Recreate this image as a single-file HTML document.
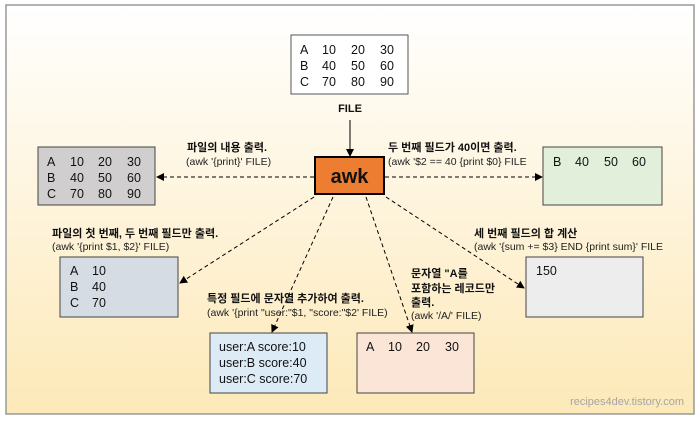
<!DOCTYPE html>
<html><head><meta charset="utf-8"><style>
html,body{margin:0;padding:0;background:#fff;}
svg{display:block;font-family:"Liberation Sans","Noto Sans CJK KR",sans-serif;}
.t{font-size:12.5px;fill:#111;}
.s{font-size:10.5px;fill:#222;}
.b{font-size:11px;font-weight:bold;fill:#111;}
</style></head><body>
<svg width="700" height="424" viewBox="0 0 700 424" xmlns="http://www.w3.org/2000/svg">
<defs>
<linearGradient id="g" x1="0" y1="0" x2="0" y2="1">
<stop offset="0" stop-color="#ffffff"/><stop offset="1" stop-color="#fde9b8"/>
</linearGradient>
<marker id="a" markerWidth="8" markerHeight="8" refX="7" refY="4" orient="auto" markerUnits="userSpaceOnUse">
<path d="M0,0 L8,4 L0,8 z" fill="#000"/></marker>
</defs>
<rect x="6" y="5" width="688" height="409" fill="url(#g)" stroke="#999" stroke-width="1.5"/>
<!-- FILE box -->
<rect x="291" y="35" width="117" height="59" fill="#fff" stroke="#555"/>
<text class="t" x="300" y="54">A</text><text class="t" x="322" y="54">10</text><text class="t" x="351" y="54">20</text><text class="t" x="380" y="54">30</text>
<text class="t" x="300" y="70">B</text><text class="t" x="322" y="70">40</text><text class="t" x="351" y="70">50</text><text class="t" x="380" y="70">60</text>
<text class="t" x="300" y="86">C</text><text class="t" x="322" y="86">70</text><text class="t" x="351" y="86">80</text><text class="t" x="380" y="86">90</text>
<text class="b" x="350" y="112" text-anchor="middle">FILE</text>
<line x1="350" y1="120" x2="350" y2="156" stroke="#000" marker-end="url(#a)"/>
<!-- awk -->
<rect x="315" y="157" width="69" height="37" fill="#ed7d31" stroke="#000" stroke-width="2"/>
<text x="349.5" y="183" text-anchor="middle" style="font-size:20px;font-weight:bold;fill:#111">awk</text>
<!-- connectors -->
<g stroke="#000" stroke-dasharray="4,3" fill="none">
<line x1="314" y1="177" x2="157" y2="177" marker-end="url(#a)"/>
<line x1="385" y1="177" x2="542" y2="177" marker-end="url(#a)"/>
<line x1="314" y1="197" x2="180" y2="283" marker-end="url(#a)"/>
<line x1="333" y1="197" x2="272" y2="332" marker-end="url(#a)"/>
<line x1="366" y1="197" x2="412" y2="332" marker-end="url(#a)"/>
<line x1="386" y1="197" x2="524" y2="288" marker-end="url(#a)"/>
</g>
<!-- left gray -->
<rect x="38" y="147" width="117" height="58" fill="#d0cece" stroke="#444"/>
<text class="t" x="47" y="166">A</text><text class="t" x="70" y="166">10</text><text class="t" x="98" y="166">20</text><text class="t" x="127" y="166">30</text>
<text class="t" x="47" y="182">B</text><text class="t" x="70" y="182">40</text><text class="t" x="98" y="182">50</text><text class="t" x="127" y="182">60</text>
<text class="t" x="47" y="198">C</text><text class="t" x="70" y="198">70</text><text class="t" x="98" y="198">80</text><text class="t" x="127" y="198">90</text>
<text class="b" x="187" y="151">파일의 내용 출력.</text>
<text class="s" x="186" y="165">(awk '{print}' FILE)</text>
<!-- right green -->
<rect x="543" y="147" width="119" height="58" fill="#e2efda" stroke="#444"/>
<text class="t" x="553" y="166">B</text><text class="t" x="575" y="166">40</text><text class="t" x="604" y="166">50</text><text class="t" x="632" y="166">60</text>
<text class="b" x="388" y="151">두 번째 필드가 40이면 출력.</text>
<text class="s" x="388" y="165">(awk '$2 == 40 {print $0} FILE</text>
<!-- bottom-left -->
<rect x="60" y="257" width="118" height="60" fill="#d6dce4" stroke="#444"/>
<text class="t" x="70" y="275">A</text><text class="t" x="92" y="275">10</text>
<text class="t" x="70" y="291">B</text><text class="t" x="92" y="291">40</text>
<text class="t" x="70" y="307">C</text><text class="t" x="92" y="307">70</text>
<text class="b" x="52" y="237">파일의 첫 번째, 두 번째 필드만 출력.</text>
<text class="s" x="52" y="250">(awk '{print $1, $2}' FILE)</text>
<!-- blue -->
<rect x="210" y="333" width="117" height="60" fill="#ddebf7" stroke="#444"/>
<text class="t" x="219" y="351">user:A score:10</text>
<text class="t" x="219" y="367">user:B score:40</text>
<text class="t" x="219" y="383">user:C score:70</text>
<text class="b" x="207" y="302">특정 필드에 문자열 추가하여 출력.</text>
<text class="s" x="207" y="316">(awk '{print "user:"$1, "score:"$2' FILE)</text>
<!-- peach -->
<rect x="357" y="333" width="117" height="60" fill="#fbe5d6" stroke="#444"/>
<text class="t" x="366" y="351">A</text><text class="t" x="388" y="351">10</text><text class="t" x="416" y="351">20</text><text class="t" x="445" y="351">30</text>
<text class="b" x="411" y="277">문자열 "A를</text>
<text class="b" x="411" y="292">포함하는 레코드만</text>
<text class="b" x="411" y="306">출력.</text>
<text class="s" x="411" y="319">(awk '/A/' FILE)</text>
<!-- 150 -->
<rect x="526" y="257" width="117" height="60" fill="#ededed" stroke="#444"/>
<text class="t" x="536" y="275">150</text>
<text class="b" x="474" y="237">세 번째 필드의 합 계산</text>
<text class="s" x="474" y="250">(awk '{sum += $3} END {print sum}' FILE</text>
<text x="684" y="405" text-anchor="end" style="font-size:11px;fill:#a6a6a6">recipes4dev.tistory.com</text>
</svg>
</body></html>
